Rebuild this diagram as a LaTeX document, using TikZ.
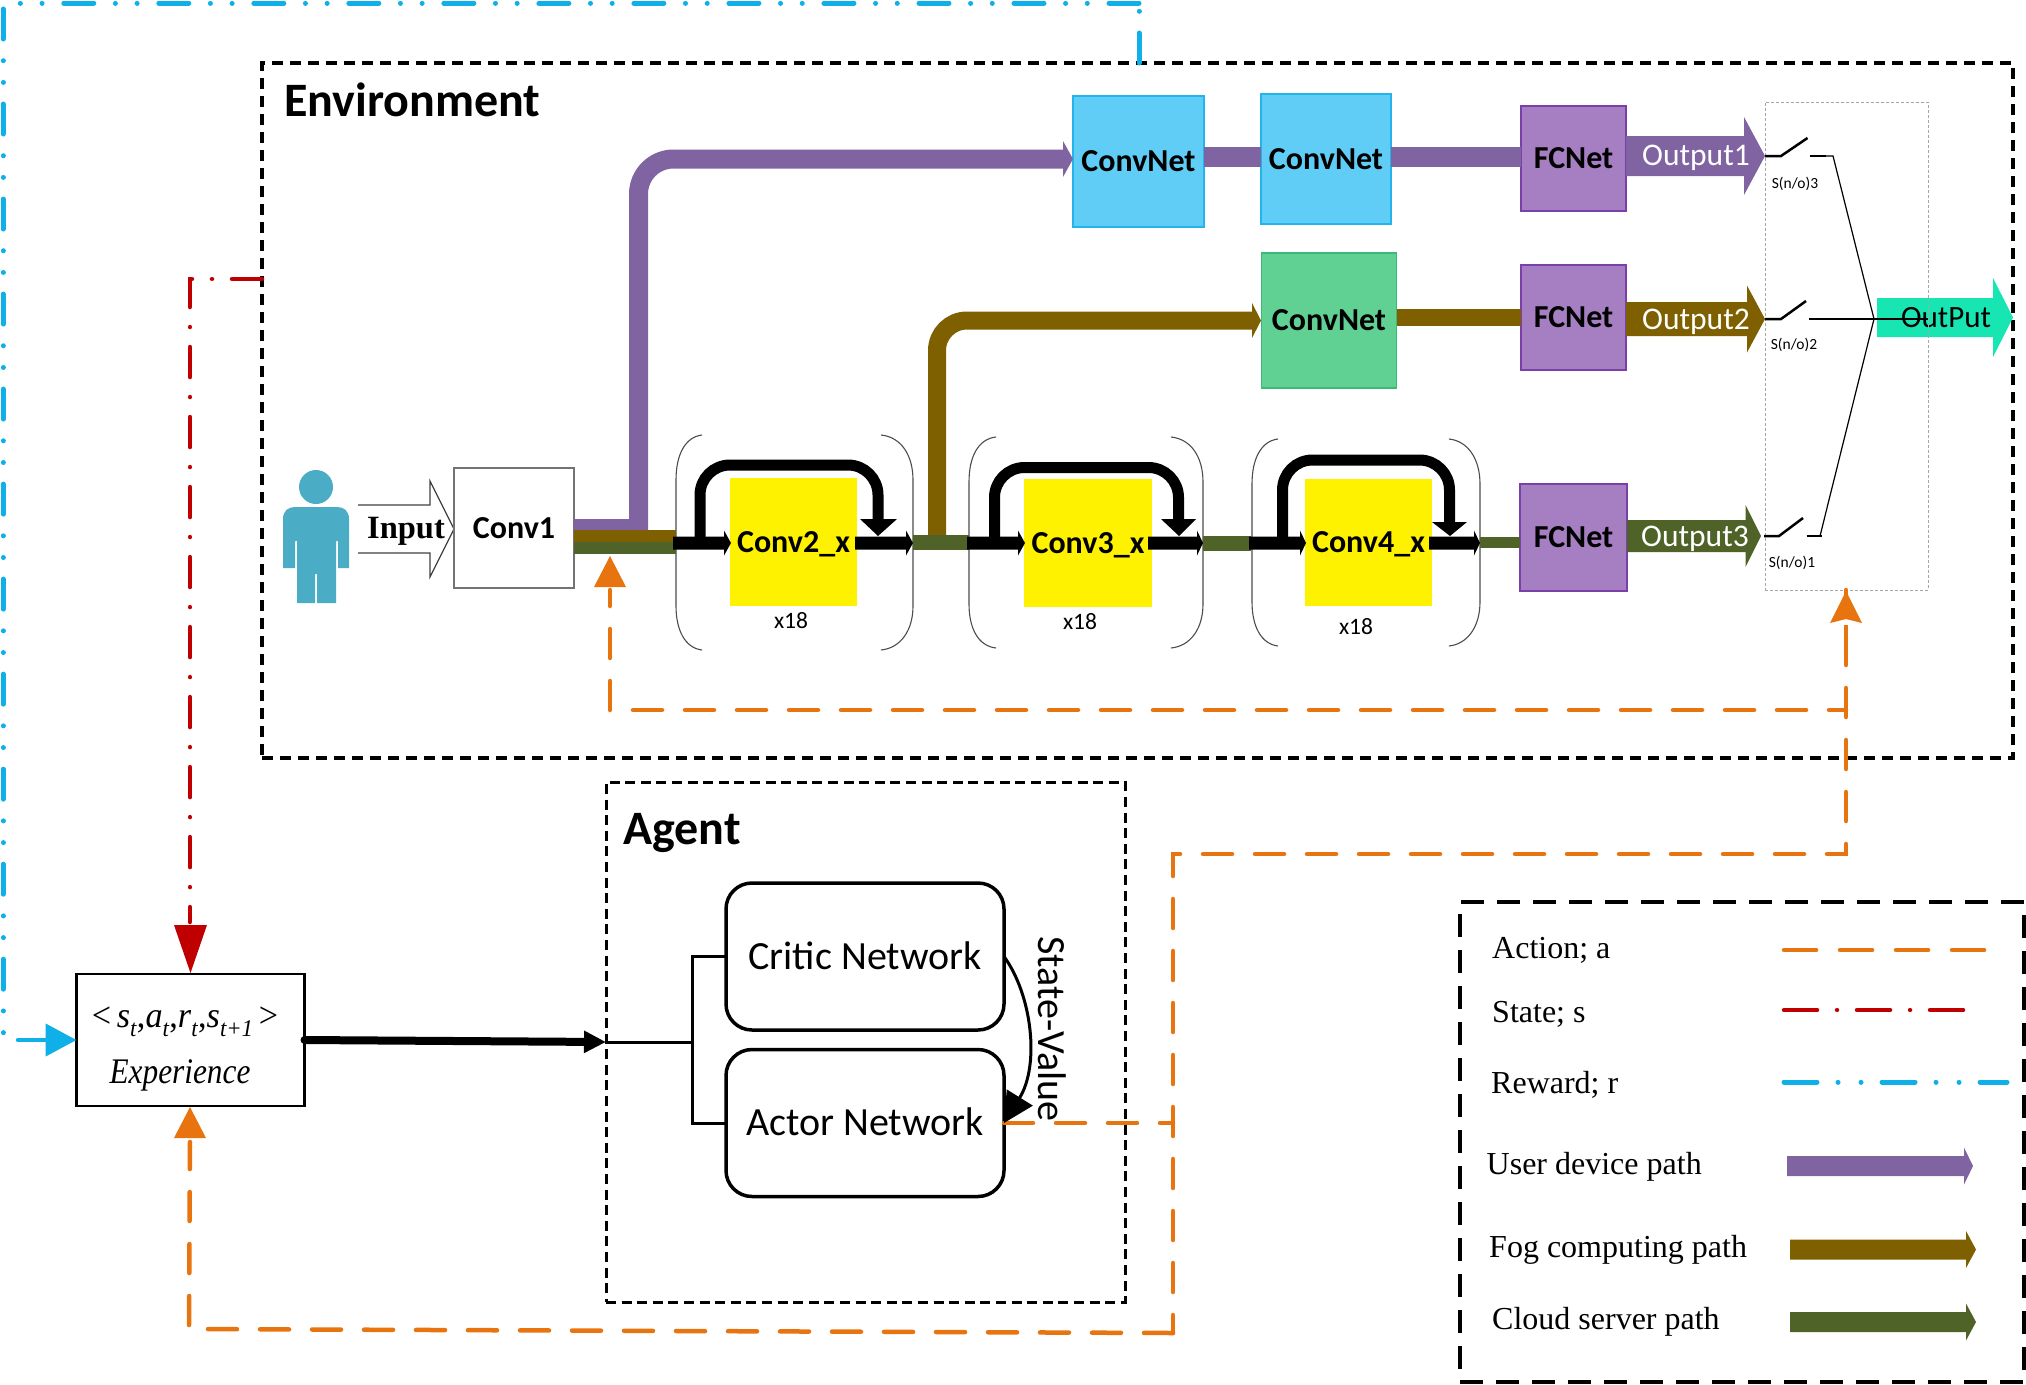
\documentclass[tikz,border=0pt]{standalone}
\usepackage{fontspec}
\usepackage{graphicx}
\usetikzlibrary{arrows.meta,calc}
\setmainfont{Liberation Serif}
\newfontfamily\carl{Carlito}
\definecolor{cpurple}{HTML}{8064A2}
\definecolor{cbrown}{HTML}{7F6000}
\definecolor{cgreen}{HTML}{4F6228}
\definecolor{cfc}{HTML}{A57FC2}
\definecolor{cfcb}{HTML}{7A3FA8}
\definecolor{cblue}{HTML}{5FCDF6}
\definecolor{cblueb}{HTML}{22B4EA}
\definecolor{cmint}{HTML}{61D093}
\definecolor{cmintb}{HTML}{3CB878}
\definecolor{cout}{HTML}{17E6B3}
\definecolor{cperson}{HTML}{4BACC6}
\definecolor{corange}{HTML}{E8740F}
\definecolor{cred}{HTML}{C00000}
\definecolor{ccyan}{HTML}{0FB0E8}
\newcommand{\fsz}[1]{\fontsize{#1}{#1}\selectfont}
\newcommand{\sbt}[1]{\raisebox{-9pt}{\fsz{24}\textit{#1}}}
% colour, x start, x head base, x tip, y centre, shaft half, head half
\newcommand{\blockarrow}[7]{\fill[#1] (#2,{#5-#6}) -- (#3,{#5-#6}) -- (#3,{#5-#7}) -- (#4,#5) -- (#3,{#5+#7}) -- (#3,{#5+#6}) -- (#2,{#5+#6}) -- cycle;}
\tikzset{
  box/.style={draw,inner sep=0pt,outer sep=0pt,rectangle},
  lb/.style={font=\carl\bfseries\fsz{32},text height=20.5pt,text depth=0pt,inner sep=0pt,outer sep=0pt},
  lbw/.style={font=\carl\fsz{31.5},text=white,text height=20pt,text depth=0pt,inner sep=0pt,outer sep=0pt},
  small/.style={font=\carl\fsz{23.5},inner sep=0pt},
  tiny/.style={font=\carl\fsz{15.5},inner sep=0pt},
  ttl/.style={font=\carl\bfseries\fsz{48},inner sep=0pt,anchor=west},
  net/.style={box,line width=3.5pt,rounded corners=26pt,minimum width=278pt,minimum height=147pt,font=\carl\fsz{40},text height=25.5pt,text depth=0pt},
  leg/.style={font=\fsz{32},inner sep=0pt,anchor=west},
  envd/.style={box,line width=3.5pt,dash pattern=on 11pt off 7pt},
  conv/.style={box,fill=cblue,draw=cblueb,line width=1.5pt},
  fc/.style={box,fill=cfc,draw=cfcb,line width=1.2pt},
  yel/.style={box,fill=yellow,draw=none},
  act/.style={draw=corange,line width=4.5pt,line cap=round,dash pattern=on 29pt off 23pt},
  st/.style={draw=cred,line width=4.5pt,line cap=round,dash pattern=on 30pt off 20pt on 0.01pt off 20pt},
  rw/.style={draw=ccyan,line width=5pt,line cap=round,dash pattern=on 30pt off 21.7pt on 0.01pt off 21.7pt on 0.01pt off 21.6pt},
  brk/.style={draw=black!70,line width=1.1pt},
  sw/.style={line width=2.5pt},
  wire/.style={line width=1.2pt},
  loopl/.style={line width=11pt,rounded corners=30pt},
}
\begin{document}
\begin{tikzpicture}[x=1pt,y=-1pt]
\useasboundingbox (0,0) rectangle (2026,1384);
% frames
\node[envd,minimum width=1751pt,minimum height=695pt] (env) at (1137.5,410.5) {};
\node[ttl] (envt) at (284,100) {Environment};
\node[box,line width=3pt,dash pattern=on 10pt off 5.6pt,minimum width=519pt,minimum height=520pt] (agent) at (865.5,1042) {};
\node[ttl] (agt) at (623,833) {Agent};
\node[box,line width=3.2pt,dash pattern=on 23pt off 13pt,minimum width=564pt,minimum height=480pt] (legend) at (1742,1142) {};
% person
\fill[cperson] (316,487) circle (17pt);
\fill[cperson] (283,568) -- (283,519) .. controls (283,511) and (288,507) .. (295,507) -- (337,507) .. controls (344,507) and (349,511) .. (349,519) -- (349,568) -- (338,568) -- (338,541) -- (336,541) -- (336,603) -- (317,603) -- (317,574) -- (315,574) -- (315,603) -- (297,603) -- (297,541) -- (295,541) -- (295,568) -- cycle;
% input arrow
\draw[line width=1.2pt,draw=black!75] (358,505) -- (430,505) -- (430,481) -- (454,529) -- (430,577) -- (430,553) -- (358,553);
\node[font=\bfseries\fsz{32.5},inner sep=0pt] (input) at (406,531) {Input};
\node[box,draw=black!55,line width=1.5pt,fill=white,minimum width=120pt,minimum height=120pt,lb] (conv1) at (514,528) {Conv1};
% brackets
\draw[brk] (702,435) .. controls (685,437) and (676,455) .. (676,480) -- (676,606) .. controls (676,630) and (685,648) .. (702,650);
\draw[brk] (881,435) .. controls (901,437) and (913,455) .. (913,480) -- (913,606) .. controls (913,630) and (901,648) .. (881,650);
\draw[brk] (996,437) .. controls (978,439) and (969,457) .. (969,482) -- (969,604) .. controls (969,628) and (978,646) .. (996,648);
\draw[brk] (1171,437) .. controls (1191,439) and (1203,457) .. (1203,482) -- (1203,604) .. controls (1203,628) and (1191,646) .. (1171,648);
\draw[brk] (1278,439) .. controls (1261,441) and (1252,459) .. (1252,484) -- (1252,602) .. controls (1252,626) and (1261,644) .. (1278,646);
\draw[brk] (1449,439) .. controls (1468,441) and (1480,459) .. (1480,484) -- (1480,602) .. controls (1480,626) and (1468,644) .. (1449,646);
% blocks
\node[conv,minimum width=131pt,minimum height=131pt,lb] (cn1) at (1138.5,161.5) {ConvNet};
\node[conv,minimum width=130pt,minimum height=130pt,lb] (cn2) at (1326,159) {ConvNet};
\node[box,fill=cmint,draw=cmintb,line width=1.5pt,minimum width=135pt,minimum height=135pt,lb] (cn3) at (1329,320.5) {ConvNet};
\node[fc,minimum width=105pt,minimum height=105pt,lb] (fc1) at (1573.5,158.5) {FCNet};
\node[fc,minimum width=105pt,minimum height=105pt,lb] (fc2) at (1573.5,317.5) {FCNet};
\node[fc,minimum width=107pt,minimum height=107pt,lb] (fc3) at (1573.5,537.5) {FCNet};
\node[yel,minimum width=127pt,minimum height=128pt,lb] (c2) at (793.5,542) {Conv2\_x};
\node[yel,minimum width=128pt,minimum height=128pt,lb] (c3) at (1088,543) {Conv3\_x};
\node[yel,minimum width=127pt,minimum height=127pt,lb] (c4) at (1368.5,542.5) {Conv4\_x};
\node[small] (x1) at (791,621) {x18};
\node[small] (x2) at (1080,622) {x18};
\node[small] (x3) at (1356,627) {x18};
% coloured paths
\fill[cpurple] (conv1.east |- 0,519) rectangle (648,530);
\draw[cpurple,line width=19pt,rounded corners=35pt] (638.5,530) -- (638.5,159) -- (1064,159);
\fill[cpurple] (1063,141) -- (1073,159) -- (1063,177) -- cycle;
\draw[cpurple,line width=20pt] (cn1.east |- 0,157) -- (cn2.west |- 0,157);
\draw[cpurple,line width=20pt] (cn2.east |- 0,157) -- (fc1.west |- 0,157);
\draw[cbrown,line width=18pt,rounded corners=30pt] (937,536) -- (937,320.5) -- (1253,320.5);
\fill[cbrown] (1252,303) -- (1261,320.5) -- (1252,338) -- cycle;
\draw[cbrown,line width=17pt] (cn3.east |- 0,317.5) -- (fc2.west |- 0,317.5);
\fill[cbrown] (conv1.east |- 0,530) rectangle (676,542);
\fill[cgreen] (conv1.east |- 0,542) rectangle (676,554);
\fill[cgreen] (913,535) rectangle (969,550);
\fill[cgreen] (1203,536) rectangle (1251,551);
\draw[cgreen,line width=11pt] (1480,542.5) -- (fc3.west |- 0,542.5);
% black arrows in residual blocks
\blockarrow{black}{673}{724}{731}{543}{6.5}{12.5}
\blockarrow{black}{855}{906}{913}{543}{6.5}{12.5}
\blockarrow{black}{967}{1018}{1025}{543}{6.5}{12.5}
\blockarrow{black}{1148}{1197}{1203}{543}{6.5}{12.5}
\blockarrow{black}{1249}{1300}{1306}{543}{6.5}{12.5}
\blockarrow{black}{1429}{1474}{1480}{543}{6.5}{12.5}
\draw[loopl] (700,540) -- (700,465) -- (878,465) -- (878,525);
\fill (860,519) -- (897,519) -- (878,536) -- cycle;
\draw[loopl] (994.5,540) -- (994.5,467.5) -- (1178.5,467.5) -- (1178.5,525);
\fill (1161,519) -- (1196,519) -- (1179,536) -- cycle;
\draw[loopl] (1282.5,540) -- (1282.5,460) -- (1449.5,460) -- (1449.5,527);
\fill (1432,522) -- (1467,522) -- (1450,536) -- cycle;
% output arrows
\blockarrow{cpurple}{1626}{1744}{1765}{156}{20}{39}
\blockarrow{cbrown}{1626}{1747}{1765}{319}{17}{33.5}
\blockarrow{cgreen}{1627}{1745.5}{1761}{536}{16}{31}
\node[lbw] (o1) at (1696,155) {Output1};
\node[lbw] (o2) at (1696,319) {Output2};
\node[lbw] (o3) at (1695,536) {Output3};
\blockarrow{cout}{1877}{1993}{2013}{317.5}{19.5}{39.5}
\node[font=\carl\fsz{31},text height=20pt,text depth=0pt,inner sep=0pt] (outp) at (1946,317.5) {OutPut};
% switches
\node[box,draw=black!35,line width=1pt,dash pattern=on 3pt off 2pt,minimum width=163pt,minimum height=488pt] (swbox) at (1846.5,346) {};
\coordinate (j) at (1874,319);
\draw[sw] (1765,156) -- (1781,156) -- (1807.5,138);
\draw[sw] (1810,156) -- (1826,156);
\draw[wire] (1826,156) -- (1833,156) -- (j);
\node[tiny] (s3) at (1795,183.5) {S(n/o)3};
\draw[sw] (1765,319) -- (1781,319) -- (1806,301);
\draw[sw] (1808.5,319) -- (1823,319);
\draw[wire] (1823,319) -- (1928,319);
\node[tiny] (s2) at (1794,345) {S(n/o)2};
\draw[sw] (1764,536) -- (1779,536) -- (1803,518);
\draw[sw] (1806.5,536) -- (1821.5,536);
\draw[wire] (1820,536) -- (j);
\node[tiny] (s1) at (1792,562.5) {S(n/o)1};
% experience
\node[box,line width=2.2pt,minimum width=228pt,minimum height=132pt] (exp) at (190.5,1040) {};
\node[font=\fsz{36},inner sep=0pt] (e1) at (185,1022) {\scalebox{0.95}[1]{<\,\textit{s}\sbt{t},\textit{a}\sbt{t},\textit{r}\sbt{t},\textit{s}\sbt{t+1}\,>}};
\node[font=\fsz{36},inner sep=0pt] (e2) at (180,1075) {\scalebox{0.87}[1]{\textit{Experience}}};
% networks
\node[net] (critic) at (865,956.5) {Critic Network};
\node[net] (actor) at (865,1123) {Actor Network};
\coordinate (jn) at (692,1042);
\draw[line width=3pt] (critic.west) -| (jn) |- (actor.west);
\draw[line width=3pt] (agent.west) -- (jn);
\draw[line width=8pt,line cap=round,-{Triangle[length=22pt,width=21pt]}] (exp.east) -- (agent.west);
% action paths
\coordinate (a1) at (1173,1333);
\coordinate (a2) at (189,1329);
\coordinate (a3) at (1173,854);
\coordinate (a4) at (1846,854);
\coordinate (a5) at (1846,710);
\coordinate (a6) at (610,710);
\coordinate (a7) at (1173,1123);
\draw[act] (actor.east) -- (a7);
\draw[act,dash phase=11pt] (a1) -- (a3) -- (a4) -- (swbox.south -| a4);
\draw[corange,line width=4.5pt] (1846,640) -- (1846,625);
\fill[corange] (1846,591) -- (1862,623) -- (1846,619) -- (1830,623) -- cycle;
\draw[act,dash phase=12pt] (a5) -- (a6) -- (610,590);
\fill[corange] (610,556) -- (626,587) -- (594,587) -- cycle;
\draw[act] (a1) -- (a2) -- (190,1142);
\fill[corange] (exp.south -| 190,0) ++(0,1) -- (206,1138) -- (174,1138) -- cycle;
% state-value
\draw[line width=3pt,-{Triangle[length=30pt,width=30pt]}] (critic.east) .. controls (1032,995) and (1040,1065) .. (actor.east);
\node[font=\carl\fsz{40},inner sep=0pt,rotate=-90] (sv) at (1052,1029) {State-Value};
% state path
\coordinate (r1) at (190,279);
\draw[st] (env.west |- r1) -- (r1) -- (190,922);
\fill[cred] (174,925) -- (207,925) -- (190.5,973) -- cycle;
% reward path
\coordinate (w1) at (1139,3);
\coordinate (w2) at (3,3);
\coordinate (w3) at (3,1040);
\draw[rw] (env.north -| w1) -- (w1);
\draw[rw] (w1) -- (w2);
\draw[rw] (3,9) -- (w3);
\coordinate (w4) at (18,1040);
\draw[ccyan,line width=4.5pt,line cap=round,-{Triangle[length=31pt,width=32pt]}] (w4) -- (exp.west);
% legend
\node[leg] (l1) at (1492,950) {Action; a};
\node[leg] (l2) at (1492,1014) {State; s};
\node[leg] (l3) at (1491,1085) {Reward; r};
\node[leg] (l4) at (1486.5,1167) {User device path};
\node[leg] (l5) at (1489,1250) {Fog computing path};
\node[leg] (l6) at (1492,1322) {Cloud server path};
\coordinate (p1) at (1784,950);\coordinate (p2) at (1985,950);
\draw[act,dash pattern=on 32pt off 24pt] (p1) -- (p2);
\coordinate (p3) at (1784,1010);\coordinate (p4) at (1971,1010);
\draw[st,dash pattern=on 33pt off 20pt on 0.01pt off 20pt] (p3) -- (p4);
\coordinate (p5) at (1784,1082);\coordinate (p6) at (2007,1082);
\draw[rw,dash pattern=on 33pt off 21pt on 0.01pt off 23pt on 0.01pt off 21pt] (p5) -- (p6);
\blockarrow{cpurple}{1787}{1964}{1973}{1166}{10}{18.5}
\blockarrow{cbrown}{1790}{1966}{1976}{1249.5}{10}{18.5}
\blockarrow{cgreen}{1790}{1966}{1976}{1322}{10}{18.5}
\end{tikzpicture}
\end{document}
